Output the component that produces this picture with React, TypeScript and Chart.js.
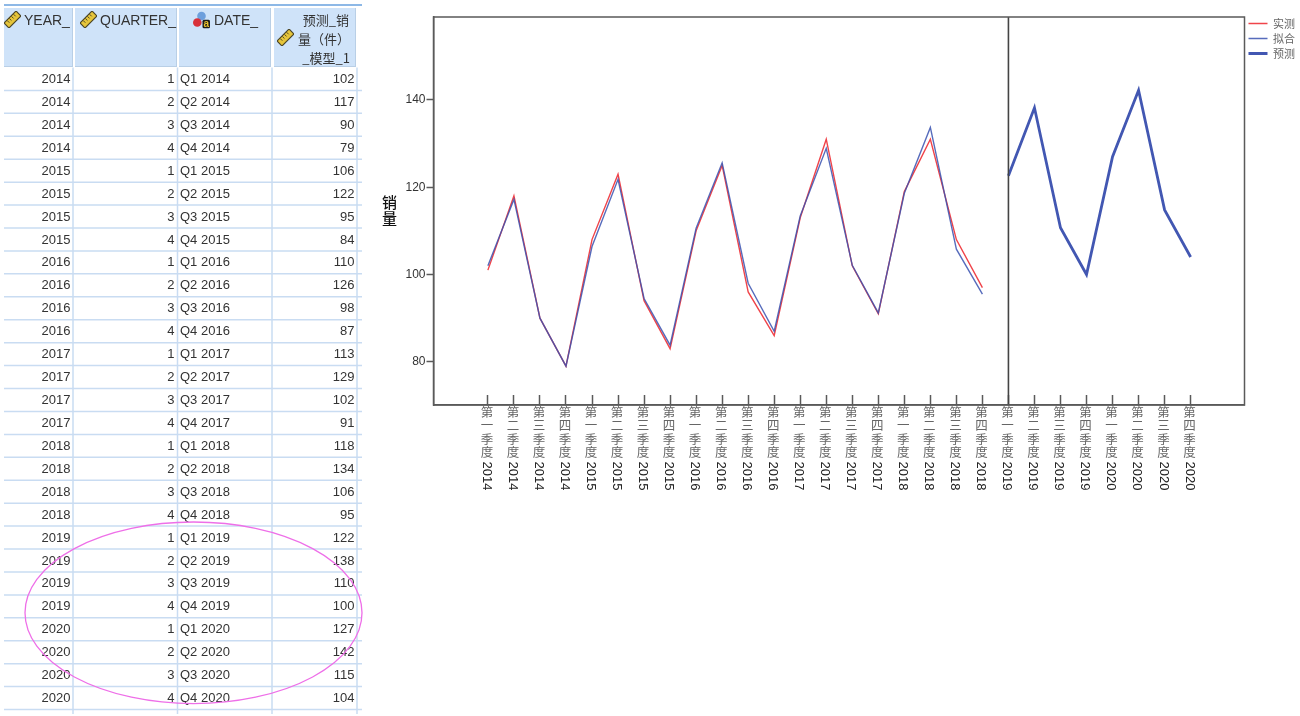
import React, { useEffect, useRef } from "react";
import { Chart, registerables } from "chart.js";

Chart.register(...registerables);

const tableYears = [2014, 2014, 2014, 2014, 2015, 2015, 2015, 2015, 2016, 2016, 2016, 2016, 2017, 2017, 2017, 2017, 2018, 2018, 2018, 2018, 2019, 2019, 2019, 2019, 2020, 2020, 2020, 2020];
const tableQuarters = [1, 2, 3, 4, 1, 2, 3, 4, 1, 2, 3, 4, 1, 2, 3, 4, 1, 2, 3, 4, 1, 2, 3, 4, 1, 2, 3, 4];
const tableDates = ["Q1 2014", "Q2 2014", "Q3 2014", "Q4 2014", "Q1 2015", "Q2 2015", "Q3 2015", "Q4 2015", "Q1 2016", "Q2 2016", "Q3 2016", "Q4 2016", "Q1 2017", "Q2 2017", "Q3 2017", "Q4 2017", "Q1 2018", "Q2 2018", "Q3 2018", "Q4 2018", "Q1 2019", "Q2 2019", "Q3 2019", "Q4 2019", "Q1 2020", "Q2 2020", "Q3 2020", "Q4 2020"];
const tableForecast = [102, 117, 90, 79, 106, 122, 95, 84, 110, 126, 98, 87, 113, 129, 102, 91, 118, 134, 106, 95, 122, 138, 110, 100, 127, 142, 115, 104];

const axisQuarterNames = ["第一季度", "第二季度", "第三季度", "第四季度", "第一季度", "第二季度", "第三季度", "第四季度", "第一季度", "第二季度", "第三季度", "第四季度", "第一季度", "第二季度", "第三季度", "第四季度", "第一季度", "第二季度", "第三季度", "第四季度", "第一季度", "第二季度", "第三季度", "第四季度", "第一季度", "第二季度", "第三季度", "第四季度"];
const axisYears = ["2014", "2014", "2014", "2014", "2015", "2015", "2015", "2015", "2016", "2016", "2016", "2016", "2017", "2017", "2017", "2017", "2018", "2018", "2018", "2018", "2019", "2019", "2019", "2019", "2020", "2020", "2020", "2020"];

const actualValues = [101, 118, 90, 79, 108, 123, 94, 83, 110, 125, 96, 86, 113, 131, 102, 91, 119, 131, 108, 97];
const fittedValues = [102, 117.2, 90, 79, 106.4, 121.8, 94.5, 83.8, 110.6, 125.6, 98, 87, 113.4, 128.9, 102.1, 91.2, 118.6, 133.7, 105.8, 95.5];
const forecastValues = [122.6, 138.2, 110.7, 100, 127, 142.2, 114.8, 104];
const forecastStartIndex = 20;
const yTickValues = [80, 100, 120, 140];
const seriesNames = ["实测", "拟合", "预测"];

const FONT = '"Liberation Sans", Arial, sans-serif';
const CJK = '"Noto Sans CJK SC", sans-serif';
const AXIS = "#5a5a5a";

function toPoints(values: number[], start = 0) {
  return values.map((y, i) => ({ x: start + i, y }));
}

const framePlugin = {
  id: "frame",
  afterLayout(chart: any) {
    chart.legend.top -= 3;
  },
  afterDatasetsDraw(chart: any) {
    const { ctx, chartArea: a, scales } = chart;
    ctx.save();
    ctx.strokeStyle = AXIS;
    ctx.lineWidth = 1.5;
    ctx.strokeRect(a.left, a.top, a.right - a.left, a.bottom - a.top);
    ctx.fillStyle = "#222";
    ctx.font = `13px ${FONT}`;
    ctx.textAlign = "left";
    ctx.textBaseline = "middle";
    axisYears.forEach((yr, i) => {
      ctx.save();
      ctx.translate(scales.x.getPixelForValue(i) - 1.5, 461.5);
      ctx.rotate(Math.PI / 2);
      ctx.fillText(yr, 0, 0);
      ctx.restore();
    });
    ctx.fillStyle = "#111";
    ctx.font = `500 15px ${CJK}`;
    ctx.textAlign = "center";
    ctx.fillText("销", 389.5, 202);
    ctx.fillText("量", 389.5, 218);
    ctx.restore();
  },
};

function Ruler({ x, y }: { x: number; y: number }) {
  return (
    <svg width="17" height="17" viewBox="0 0 17 17" style={{ position: "absolute", left: x, top: y }}>
      <g transform="rotate(-45 8.5 8.5)">
        <rect x="0" y="5" width="17" height="7" fill="#e6c53a" stroke="#4a4426" strokeWidth="1.2" />
        <path d="M4 5.5v3M7 5.5v3M10 5.5v3M13 5.5v3" stroke="#4a4426" strokeWidth="0.9" />
      </g>
    </svg>
  );
}

function DateIcon({ x, y }: { x: number; y: number }) {
  return (
    <svg width="18" height="18" viewBox="0 0 18 18" style={{ position: "absolute", left: x, top: y }}>
      <circle cx="8.5" cy="5" r="4.3" fill="#6d9fdc" />
      <circle cx="4.3" cy="11.5" r="4.3" fill="#d8303a" />
      <rect x="9.5" y="8.8" width="7.5" height="8.4" rx="1.5" fill="#1a1a1a" />
      <text x="13.2" y="16" fontSize="10" fontWeight="bold" textAnchor="middle" fontFamily={FONT} fill="#e8c02e">a</text>
    </svg>
  );
}

const ROW0 = 67.5;
const ROWH = 22.93;
const COLS = [73, 177.5, 272, 357];
const TEXT: React.CSSProperties = {
  position: "absolute",
  font: `13px ${FONT}`,
  color: "#333",
  whiteSpace: "nowrap",
};
const HEAD: React.CSSProperties = {
  position: "absolute",
  font: `14px ${FONT}`,
  color: "#333",
  whiteSpace: "nowrap",
  lineHeight: "18px",
};

function DataTable() {
  const headCells = [
    [4, 69],
    [74.5, 102],
    [179, 92],
    [273.5, 82],
  ];
  return (
    <>
      <div style={{ position: "absolute", left: 4, top: 4, width: 358, height: 2, background: "#8db8e6" }} />
      {headCells.map(([l, w], i) => (
        <div key={i} style={{ position: "absolute", left: l, top: 8, width: w, height: 59, background: "#cfe3f9", borderRight: "1px solid #b9cfe6", borderBottom: "1px solid #b9cfe6", boxSizing: "border-box" }} />
      ))}
      <Ruler x={4} y={11} />
      <div style={{ ...HEAD, left: 24, top: 11 }}>YEAR_</div>
      <Ruler x={80} y={11} />
      <div style={{ ...HEAD, left: 100, top: 11 }}>QUARTER_</div>
      <DateIcon x={193} y={11} />
      <div style={{ ...HEAD, left: 214, top: 11 }}>DATE_</div>
      <div style={{ ...HEAD, right: 1300 - 349, top: 11, fontFamily: CJK, fontSize: 13 }}>预测_销</div>
      <Ruler x={277} y={29} />
      <div style={{ ...HEAD, left: 298, top: 30, fontFamily: CJK, fontSize: 13 }}>量（件）</div>
      <div style={{ ...HEAD, right: 1300 - 350, top: 49, fontFamily: CJK, fontSize: 13 }}>_模型_1</div>
      <svg width="370" height="716" style={{ position: "absolute", left: 0, top: 0, pointerEvents: "none" }}>
        {tableYears.map((_, i) => {
          const y = ROW0 + (i + 1) * ROWH;
          return <line key={i} x1={4} x2={362} y1={y} y2={y} stroke="#c9dcf2" strokeWidth={1.5} />;
        })}
        {COLS.map((x) => (
          <line key={x} x1={x} x2={x} y1={ROW0} y2={714} stroke="#c9dcf2" strokeWidth={1.5} />
        ))}
      </svg>
      {tableYears.map((yr, i) => {
        const top = ROW0 + i * ROWH + 3.5;
        return (
          <React.Fragment key={i}>
            <div style={{ ...TEXT, top, right: 1300 - 70.5 }}>{yr}</div>
            <div style={{ ...TEXT, top, right: 1300 - 174.5 }}>{tableQuarters[i]}</div>
            <div style={{ ...TEXT, top, left: 180 }}>{tableDates[i]}</div>
            <div style={{ ...TEXT, top, right: 1300 - 354.5 }}>{tableForecast[i]}</div>
          </React.Fragment>
        );
      })}
      <svg width="1300" height="716" style={{ position: "absolute", left: 0, top: 0, pointerEvents: "none" }}>
        <ellipse cx="193.5" cy="612.8" rx="168.5" ry="90.8" fill="none" stroke="#ee6fe8" strokeWidth="1.3" />
      </svg>
    </>
  );
}

export default function App() {
  const ref = useRef<HTMLCanvasElement>(null);
  useEffect(() => {
    const yMin = 70.1;
    const yMax = 159;
    const chart = new Chart(ref.current!, {
      type: "line",
      data: {
        datasets: [
          { label: seriesNames[0], data: toPoints(actualValues), borderColor: "#f0444a", backgroundColor: "#f0444a", borderWidth: 1.4, pointRadius: 0, order: 3 },
          { label: seriesNames[1], data: toPoints(fittedValues), borderColor: "rgba(58,82,176,0.85)", backgroundColor: "rgba(58,82,176,0.85)", borderWidth: 1.4, pointRadius: 0, order: 2 },
          { label: seriesNames[2], data: toPoints(forecastValues, forecastStartIndex), borderColor: "#4257b2", backgroundColor: "#4257b2", borderWidth: 2.8, pointRadius: 0, order: 1 },
          { label: "divider", data: [{ x: forecastStartIndex, y: yMin }, { x: forecastStartIndex, y: yMax }], borderColor: "#444", backgroundColor: "#444", borderWidth: 1.6, pointRadius: 0, order: 0 },
        ],
      },
      options: {
        responsive: false,
        animation: false,
        devicePixelRatio: 1,
        layout: { padding: { left: 380, top: 17, right: -5, bottom: 0 } },
        plugins: {
          tooltip: { enabled: false },
          title: { display: false },
          legend: {
            display: true,
            position: "right",
            align: "start",
            labels: {
              usePointStyle: true,
              pointStyle: "line",
              pointStyleWidth: 19,
              boxHeight: 8,
              padding: 4,
              color: "#666",
              font: { family: CJK, size: 11 },
              filter: (item: any) => item.text !== "divider",
              sort: (a: any, b: any) => a.datasetIndex - b.datasetIndex,
            },
          },
        },
        scales: {
          x: {
            type: "linear",
            min: -2.09,
            max: 29.07,
            afterBuildTicks: (s: any) => {
              s.ticks = axisYears.map((_, i) => ({ value: i }));
            },
            afterFit: (s: any) => {
              s.height = 311;
            },
            grid: { drawOnChartArea: false, tickLength: -10, tickColor: AXIS, tickWidth: 1.5 },
            border: { color: AXIS, width: 1.5 },
            ticks: {
              autoSkip: false,
              maxRotation: 0,
              minRotation: 0,
              padding: 10,
              labelOffset: -1,
              color: "#666",
              font: { family: CJK, size: 12.5, lineHeight: 1.08 },
              callback: (v: any) => (axisQuarterNames[v] ? axisQuarterNames[v].split("") : ""),
            },
          },
          y: {
            type: "linear",
            min: yMin,
            max: yMax,
            afterBuildTicks: (s: any) => {
              s.ticks = yTickValues.map((value) => ({ value }));
            },
            afterFit: (s: any) => {
              s.width = 53.5;
            },
            grid: { drawOnChartArea: false, tickLength: 7, tickColor: AXIS, tickWidth: 1.5 },
            border: { color: AXIS, width: 1.5 },
            ticks: { padding: 1, color: "#333", font: { family: FONT, size: 12 } },
          },
        },
      },
      plugins: [framePlugin],
    } as any);
    return () => chart.destroy();
  }, []);

  return (
    <div style={{ position: "fixed", left: 0, top: 0, width: 1300, height: 716, background: "#fff", overflow: "hidden", filter: "blur(0.4px)" }}>
      <canvas ref={ref} width={1300} height={716} style={{ position: "absolute", left: 0, top: 0 }} />
      <DataTable />
    </div>
  );
}
